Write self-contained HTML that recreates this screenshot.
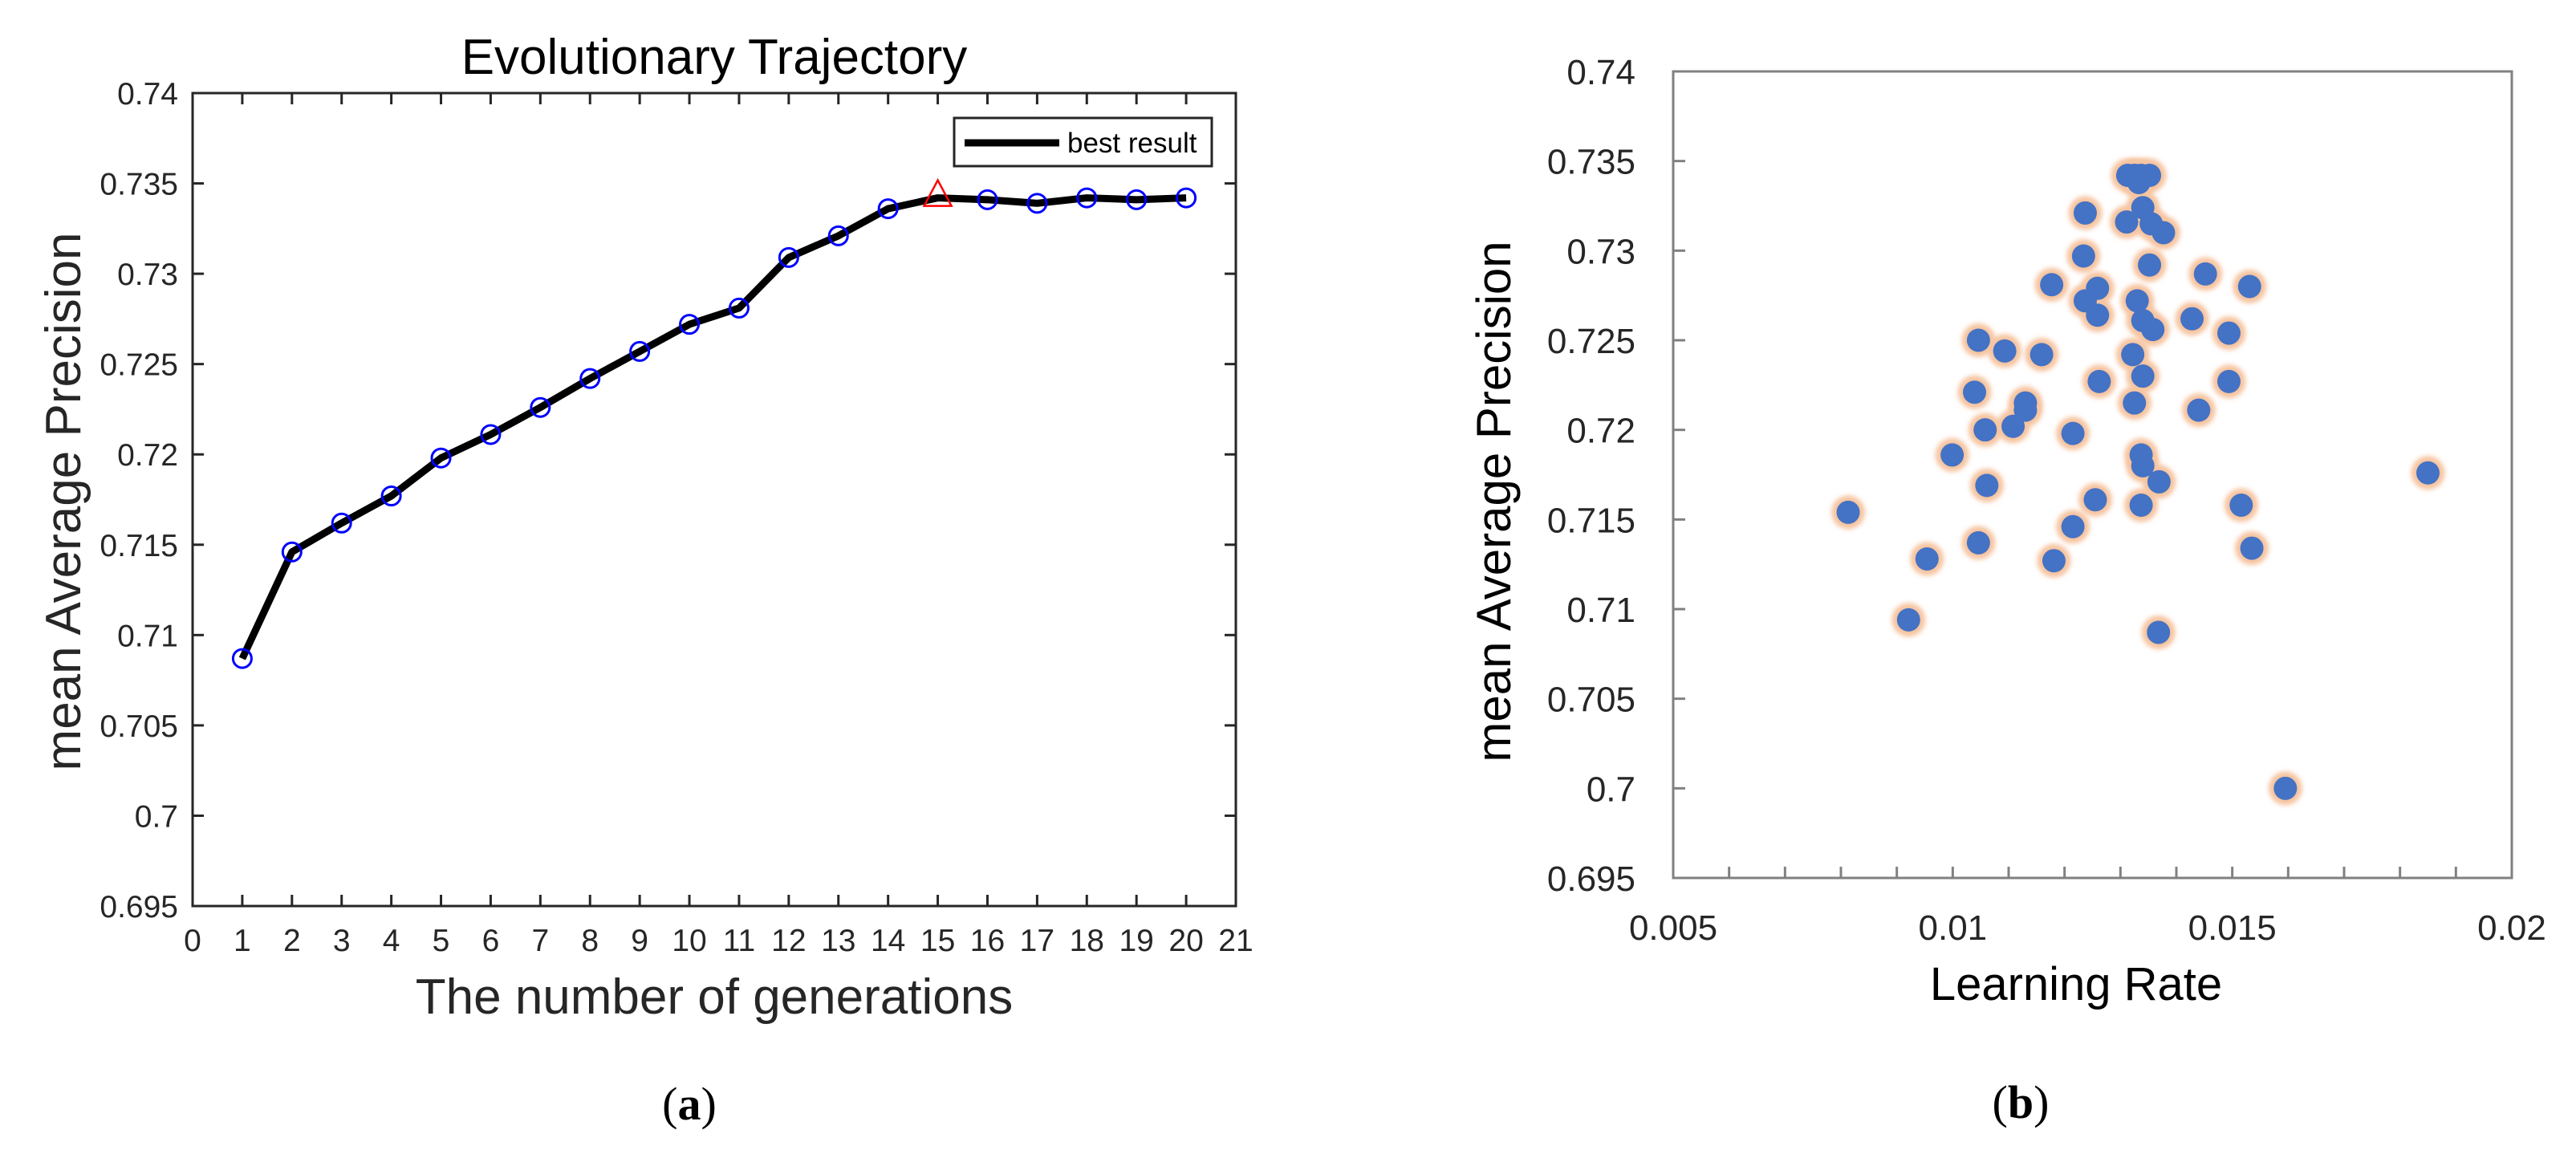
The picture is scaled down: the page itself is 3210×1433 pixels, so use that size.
<!DOCTYPE html>
<html><head><meta charset="utf-8">
<style>
html,body{margin:0;padding:0;background:#fff;}
svg{display:block;}
</style></head>
<body>
<svg id="fig" width="3210" height="1433" viewBox="0 0 3210 1433" xmlns="http://www.w3.org/2000/svg">
  <defs>
    <filter id="blur" x="-50%" y="-50%" width="200%" height="200%"><feGaussianBlur stdDeviation="3"/></filter>
  </defs>
  <g id="chartA"></g>
  <g id="chartB"></g>
  <text x="859" y="1395" text-anchor="middle" font-family="Liberation Serif, serif" font-size="58" fill="#000">(<tspan font-weight="bold">a</tspan>)</text>
  <text x="2518" y="1393" text-anchor="middle" font-family="Liberation Serif, serif" font-size="58" fill="#000">(<tspan font-weight="bold">b</tspan>)</text>
</svg>
<script>
// ---- Chart A data ----
const genCategories = [1,2,3,4,5,6,7,8,9,10,11,12,13,14,15,16,17,18,19,20];
const bestResultValues = [0.7087,0.7146,0.7162,0.7177,0.7198,0.7211,0.7226,0.7242,0.7257,0.7272,0.7281,0.7309,0.7321,0.7336,0.7342,0.7341,0.7339,0.7342,0.7341,0.7342];
const bestGeneration = 15;
const aXTicks = [0,1,2,3,4,5,6,7,8,9,10,11,12,13,14,15,16,17,18,19,20,21];
const aYTicks = [0.695,0.7,0.705,0.71,0.715,0.72,0.725,0.73,0.735,0.74];
const aYTickLabels = ['0.695','0.7','0.705','0.71','0.715','0.72','0.725','0.73','0.735','0.74'];

// ---- Chart B data ----
const lrValues = [0.01313,0.01325,0.01337,0.01352,0.01333,0.0134,0.01311,0.01355,0.01377,0.01237,0.01234,0.01352,0.01177,0.01259,0.01237,0.01259,0.0133,0.0134,0.01358,0.01428,0.01452,0.01531,0.01494,0.01046,0.01093,0.01159,0.01322,0.0134,0.01262,0.01494,0.01039,0.0113,0.0113,0.01108,0.01058,0.01215,0.01325,0.0144,0.00999,0.01337,0.0134,0.01369,0.01061,0.01255,0.01337,0.01516,0.00813,0.01215,0.01046,0.01535,0.00954,0.01181,0.00921,0.01368,0.0185,0.01595];
const mapValues = [0.7342,0.7342,0.7342,0.7342,0.7338,0.7324,0.7316,0.7315,0.7310,0.7321,0.7297,0.7292,0.7281,0.7279,0.7272,0.7264,0.7272,0.7261,0.7256,0.7262,0.7287,0.7280,0.7254,0.7250,0.7244,0.7242,0.7242,0.7230,0.7227,0.7227,0.7221,0.7215,0.7211,0.7202,0.7200,0.7198,0.7215,0.7211,0.7186,0.7186,0.7180,0.7171,0.7169,0.7161,0.7158,0.7158,0.7154,0.7146,0.7137,0.7134,0.7128,0.7127,0.7094,0.7087,0.7176,0.7000];
const bXTicks = [0.005,0.01,0.015,0.02];
const bXTickLabels = ['0.005','0.01','0.015','0.02'];
const bXMinor = [0.006,0.007,0.008,0.009,0.01,0.011,0.012,0.013,0.014,0.015,0.016,0.017,0.018,0.019];
const bYTicks = [0.695,0.7,0.705,0.71,0.715,0.72,0.725,0.73,0.735,0.74];
const bYTickLabels = ['0.695','0.7','0.705','0.71','0.715','0.72','0.725','0.73','0.735','0.74'];

const NS='http://www.w3.org/2000/svg';
function mk(parent,tag,attrs,text){const e=document.createElementNS(NS,tag);for(const k in attrs)e.setAttribute(k,attrs[k]);if(text!==undefined)e.textContent=text;parent.appendChild(e);return e;}

// ---------- Chart A ----------
(function(){
  const g=document.getElementById('chartA');
  const L=240,R=1540,T=116,B=1129;
  const xs=v=>L+(v-0)/(21-0)*(R-L);
  const ys=v=>B-(v-0.695)/(0.74-0.695)*(B-T);
  const col='#262626';
  const fontS='Liberation Sans, Arial, sans-serif';
  const frame=mk(g,'rect',{x:L,y:T,width:R-L,height:B-T,fill:'#fff',stroke:col,'stroke-width':3});
  
  
  aXTicks.forEach(v=>{
    const x=xs(v);
    const t1=mk(g,'line',{x1:x,y1:B,x2:x,y2:B-14,stroke:col,'stroke-width':3});
    
    
    const t2=mk(g,'line',{x1:x,y1:T,x2:x,y2:T+14,stroke:col,'stroke-width':3});
    
    
    const lb=mk(g,'text',{x:x,y:1185,'text-anchor':'middle','font-family':fontS,'font-size':39,fill:col},String(v));
    
    
  });
  aYTicks.forEach((v,i)=>{
    const y=ys(v);
    const t1=mk(g,'line',{x1:L,y1:y,x2:L+14,y2:y,stroke:col,'stroke-width':3});
    
    
    const t2=mk(g,'line',{x1:R,y1:y,x2:R-14,y2:y,stroke:col,'stroke-width':3});
    
    
    const lb=mk(g,'text',{x:222,y:y+14,'text-anchor':'end','font-family':fontS,'font-size':39,fill:col},aYTickLabels[i]);
    
    
  });
  const pts=genCategories.map((c,i)=>xs(c)+','+ys(bestResultValues[i])).join(' ');
  const line=mk(g,'polyline',{points:pts,fill:'none',stroke:'#000','stroke-width':9,'stroke-linejoin':'round'});
  
  
  genCategories.forEach((c,i)=>{
    const x=xs(c),y=ys(bestResultValues[i]);
    if(c===bestGeneration){
      const tri=mk(g,'polygon',{points:`${x},${y-22} ${x-17},${y+10} ${x+17},${y+10}`,fill:'none',stroke:'#ff0000','stroke-width':2.5});
      
      
    } else {
      const c1=mk(g,'circle',{cx:x,cy:y,r:11.5,fill:'none',stroke:'#0000ff','stroke-width':3});
      
      
    }
  });
  const leg=mk(g,'g',{});
  
  
  mk(leg,'rect',{x:1189,y:147,width:321,height:60,fill:'#fff',stroke:col,'stroke-width':3});
  const ll=mk(leg,'line',{x1:1202,y1:178,x2:1320,y2:178,stroke:'#000','stroke-width':9});
  
  
  const lt=mk(leg,'text',{x:1330,y:190,'font-family':fontS,'font-size':35,fill:'#000'},'best result');
  
  
  const title=mk(g,'text',{x:890,y:92,'text-anchor':'middle','font-family':fontS,'font-size':62,fill:'#000'},'Evolutionary Trajectory');
  
  
  const xt=mk(g,'text',{x:890,y:1263,'text-anchor':'middle','font-family':fontS,'font-size':62,fill:col},'The number of generations');
  
  
  const yt=mk(g,'text',{x:0,y:0,'text-anchor':'middle','font-family':fontS,'font-size':62,fill:col,transform:'translate(100,625) rotate(-90)'},'mean Average Precision');
  
  
})();

// ---------- Chart B ----------
(function(){
  const g=document.getElementById('chartB');
  const L=2085,R=3130,T=89,B=1094;
  const xs=v=>L+(v-0.005)/(0.02-0.005)*(R-L);
  const ys=v=>B-(v-0.695)/(0.74-0.695)*(B-T);
  const col='#808080', tcol='#262626';
  const fontS='Liberation Sans, DejaVu Sans, sans-serif';
  const frame=mk(g,'rect',{x:L,y:T,width:R-L,height:B-T,fill:'#fff',stroke:col,'stroke-width':3});
  
  
  bXMinor.forEach(v=>{
    const x=xs(v);
    const t=mk(g,'line',{x1:x,y1:B,x2:x,y2:B-14,stroke:col,'stroke-width':3});
    
    
  });
  bXTicks.forEach((v,i)=>{
    const lb=mk(g,'text',{x:xs(v),y:1171,'text-anchor':'middle','font-family':fontS,'font-size':44,fill:tcol},bXTickLabels[i]);
    
    
  });
  bYTicks.forEach((v,i)=>{
    const y=ys(v);
    const t=mk(g,'line',{x1:L,y1:y,x2:L+15,y2:y,stroke:col,'stroke-width':3});
    
    
    const lb=mk(g,'text',{x:2038,y:y+16,'text-anchor':'end','font-family':fontS,'font-size':44,fill:tcol},bYTickLabels[i]);
    
    
  });
  lrValues.forEach((v,i)=>{
    const x=xs(v),y=ys(mapValues[i]);
    const h=mk(g,'circle',{cx:x,cy:y,r:21,fill:'#f6c4a0',filter:'url(#blur)'});
    
    
  });
  lrValues.forEach((v,i)=>{
    const x=xs(v),y=ys(mapValues[i]);
    const d=mk(g,'circle',{cx:x,cy:y,r:14.5,fill:'#4472c4'});
    
    
  });
  const xt=mk(g,'text',{x:2587,y:1246,'text-anchor':'middle','font-family':fontS,'font-size':58,fill:'#000'},'Learning Rate');
  
  
  const yt=mk(g,'text',{x:0,y:0,'text-anchor':'middle','font-family':fontS,'font-size':60,fill:'#000','xml:space':'preserve',transform:'translate(1882,625) rotate(-90)'},'mean  Average Precision');
  
  
})();
</script>
</body></html>
